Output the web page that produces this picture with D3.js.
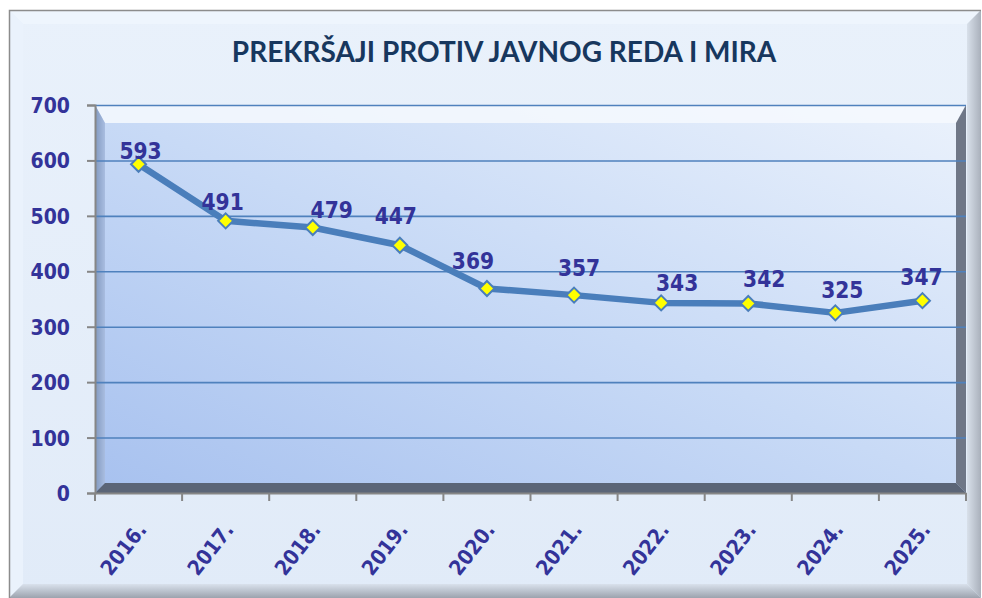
<!DOCTYPE html>
<html>
<head>
<meta charset="utf-8">
<script src="https://cdn.jsdelivr.net/npm/d3@7"></script>
<style>
  html, body { margin: 0; padding: 0; background: #fff; }
  svg { display: block; }
  .num { font-family: "DejaVu Sans Condensed", "DejaVu Sans", sans-serif; font-stretch: condensed; font-weight: bold; fill: #333399; }
</style>
</head>
<body>
<div id="chart"></div>
<script>
const years = ['2016.', '2017.', '2018.', '2019.', '2020.', '2021.', '2022.', '2023.', '2024.', '2025.'];
const values = [593, 491, 479, 447, 369, 357, 343, 342, 325, 347];
const yTicks = [0, 100, 200, 300, 400, 500, 600, 700];
const title = 'PREKRŠAJI PROTIV JAVNOG REDA I MIRA';

// manual label nudges (label centre relative to point), as placed in the original
const labelNudge = [[2, -13], [-3, -19], [19, -18], [-4, -29], [-14, -28], [5, -27], [16, -20], [16, -25], [7, -23], [-1, -24]];

const W = 982, H = 598;
const plot = { left: 95, right: 966, top: 105, bottom: 493 };

const svg = d3.select('#chart').append('svg')
  .attr('width', W)
  .attr('height', H);

const defs = svg.append('defs');

const bg = defs.append('linearGradient').attr('id', 'bgGrad')
  .attr('x1', 0).attr('y1', 0).attr('x2', 0).attr('y2', 1);
bg.append('stop').attr('offset', 0).attr('stop-color', '#e9f1fb');
bg.append('stop').attr('offset', 1).attr('stop-color', '#e1ebf8');

const pg = defs.append('linearGradient').attr('id', 'plotGrad')
  .attr('x1', 0).attr('y1', 1).attr('x2', 1).attr('y2', 0);
pg.append('stop').attr('offset', 0).attr('stop-color', '#a7c1ef');
pg.append('stop').attr('offset', 0.5).attr('stop-color', '#c8daf6');
pg.append('stop').attr('offset', 1).attr('stop-color', '#ebf2fc');

const rg = defs.append('linearGradient').attr('id', 'rightGrad')
  .attr('x1', 0).attr('y1', 0).attr('x2', 1).attr('y2', 0);
rg.append('stop').attr('offset', 0).attr('stop-color', '#d8e0ea');
rg.append('stop').attr('offset', 1).attr('stop-color', '#a9b0bb');

const bgr = defs.append('linearGradient').attr('id', 'botGrad')
  .attr('x1', 0).attr('y1', 0).attr('x2', 0).attr('y2', 1);
bgr.append('stop').attr('offset', 0).attr('stop-color', '#d9e1ec');
bgr.append('stop').attr('offset', 1).attr('stop-color', '#9ca3ae');

const lg = defs.append('linearGradient').attr('id', 'leftBevel')
  .attr('x1', 0).attr('y1', 0).attr('x2', 1).attr('y2', 0);
lg.append('stop').attr('offset', 0).attr('stop-color', '#8199c0');
lg.append('stop').attr('offset', 1).attr('stop-color', '#a9bde0');

// outer frame with bevel
const fx0 = 9, fy0 = 10, fx1 = 981, fy1 = 598, bv = 14;
svg.append('rect')
  .attr('x', fx0).attr('y', fy0).attr('width', fx1 - fx0).attr('height', fy1 - fy0)
  .attr('fill', 'url(#bgGrad)');
svg.append('polygon')
  .attr('points', [[fx0, fy0], [fx1, fy0], [fx1 - bv, fy0 + bv], [fx0 + bv, fy0 + bv]].join(' '))
  .attr('fill', '#eef5fd');
svg.append('polygon')
  .attr('points', [[fx0, fy0], [fx0 + bv, fy0 + bv], [fx0 + bv, fy1 - bv], [fx0, fy1]].join(' '))
  .attr('fill', '#eaf2fc');
svg.append('polygon')
  .attr('points', [[fx1, fy0], [fx1, fy1], [fx1 - bv, fy1 - bv], [fx1 - bv, fy0 + bv]].join(' '))
  .attr('fill', 'url(#rightGrad)');
svg.append('polygon')
  .attr('points', [[fx0, fy1], [fx0 + bv, fy1 - bv], [fx1 - bv, fy1 - bv], [fx1, fy1]].join(' '))
  .attr('fill', 'url(#botGrad)');
svg.append('path')
  .attr('d', `M${fx0 + 0.5},${fy1} V${fy0 + 0.5} H${fx1}`)
  .attr('fill', 'none')
  .attr('stroke', '#8c8c8c')
  .attr('stroke-width', 1.5);

// title
const titleText = svg.append('text')
  .attr('x', 504)
  .attr('y', 62)
  .attr('text-anchor', 'middle')
  .attr('font-family', 'Lato, "Open Sans", sans-serif')
  .attr('font-weight', 'bold')
  .attr('font-size', 28)
  .attr('fill', '#17375e')
  .text(title);
if (titleText.node().getComputedTextLength() > 552) {
  titleText.attr('textLength', 552).attr('lengthAdjust', 'spacingAndGlyphs');
}

// scales
const x = d3.scaleBand().domain(years).range([plot.left, plot.right]).padding(0);
const y = d3.scaleLinear().domain([0, 700]).range([plot.bottom, plot.top]);
const cx = d => x(d) + x.bandwidth() / 2;

// plot area with bevel
const pb = 10;
svg.append('rect')
  .attr('x', plot.left).attr('y', plot.top)
  .attr('width', plot.right - plot.left).attr('height', plot.bottom - plot.top)
  .attr('fill', 'url(#plotGrad)');
svg.append('polygon')
  .attr('points', [[plot.left, plot.top], [plot.right, plot.top], [plot.right - pb, plot.top + 18], [plot.left + pb, plot.top + 18]].join(' '))
  .attr('fill', '#f6f9fe').attr('opacity', 0.85);
svg.append('polygon')
  .attr('points', [[plot.left, plot.top], [plot.left + pb, plot.top + 18], [plot.left + pb, plot.bottom - pb], [plot.left, plot.bottom]].join(' '))
  .attr('fill', 'url(#leftBevel)');
svg.append('polygon')
  .attr('points', [[plot.right, plot.top], [plot.right, plot.bottom], [plot.right - pb, plot.bottom - pb], [plot.right - pb, plot.top + 18]].join(' '))
  .attr('fill', '#6f7787');
svg.append('polygon')
  .attr('points', [[plot.left, plot.bottom], [plot.left + pb, plot.bottom - pb], [plot.right - pb, plot.bottom - pb], [plot.right, plot.bottom]].join(' '))
  .attr('fill', '#5b6577');

// gridlines
svg.append('g')
  .attr('transform', `translate(${plot.left},0)`)
  .call(d3.axisLeft(y).tickValues(yTicks.filter(v => v > 0)).tickSize(-(plot.right - plot.left)).tickFormat(''))
  .call(g => g.select('.domain').remove())
  .call(g => g.selectAll('line').attr('stroke', '#4f81bd').attr('stroke-width', 1.6));

// y axis
svg.append('g')
  .attr('transform', `translate(${plot.left},0)`)
  .call(d3.axisLeft(y).tickValues(yTicks).tickSize(8).tickPadding(17))
  .call(g => g.select('.domain').attr('stroke', '#868686').attr('stroke-width', 2))
  .call(g => g.selectAll('line').attr('stroke', '#868686').attr('stroke-width', 2))
  .call(g => g.selectAll('text')
    .attr('class', 'num')
    .attr('font-size', 21)
    .attr('fill', '#333399')
    .attr('dy', '0.36em'));

// x axis
svg.append('g')
  .attr('transform', `translate(0,${plot.bottom})`)
  .call(d3.axisBottom(x).tickValues([]).tickSizeOuter(0))
  .call(g => g.select('.domain').attr('stroke', '#868686').attr('stroke-width', 2));
svg.append('g')
  .selectAll('line')
  .data(d3.range(years.length + 1))
  .join('line')
  .attr('x1', i => plot.left + i * x.step())
  .attr('x2', i => plot.left + i * x.step())
  .attr('y1', plot.bottom)
  .attr('y2', plot.bottom + 8)
  .attr('stroke', '#868686')
  .attr('stroke-width', 2);

svg.append('g')
  .selectAll('text')
  .data(years)
  .join('text')
  .attr('class', 'num')
  .attr('font-size', 21)
  .attr('text-anchor', 'end')
  .attr('transform', d => `translate(${cx(d) + 9},${plot.bottom + 37}) rotate(-52)`)
  .text(d => d);

// line
const line = d3.line()
  .x((d, i) => cx(years[i]))
  .y(d => y(d));

svg.append('path')
  .datum(values)
  .attr('fill', 'none')
  .attr('stroke', '#4a7ebb')
  .attr('stroke-width', 6.5)
  .attr('stroke-linejoin', 'round')
  .attr('d', line);

// markers
svg.append('g')
  .selectAll('path')
  .data(values)
  .join('path')
  .attr('transform', (d, i) => `translate(${cx(years[i])},${y(d)})`)
  .attr('d', 'M0,-7.5 L7.5,0 L0,7.5 L-7.5,0 Z')
  .attr('fill', '#ffff00')
  .attr('stroke', '#4a7ebb')
  .attr('stroke-width', 2);

// data labels
svg.append('g')
  .selectAll('text')
  .data(values)
  .join('text')
  .attr('class', 'num')
  .attr('font-size', 22.5)
  .attr('text-anchor', 'middle')
  .attr('x', (d, i) => cx(years[i]) + labelNudge[i][0])
  .attr('y', (d, i) => y(d) + labelNudge[i][1])
  .attr('dy', '0.36em')
  .text(d => d);
</script>
</body>
</html>
